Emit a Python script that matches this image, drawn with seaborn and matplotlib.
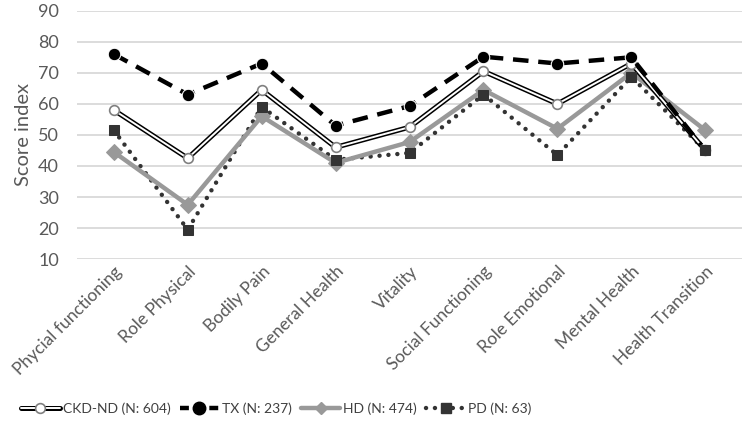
import numpy as np
import pandas as pd
import seaborn as sns
import matplotlib.pyplot as plt
from matplotlib.lines import Line2D
from matplotlib.legend_handler import HandlerTuple

domains = ['Phycial functioning', 'Role Physical', 'Bodily Pain', 'General Health', 'Vitality',
           'Social Functioning', 'Role Emotional', 'Mental Health', 'Health Transition']
ckd = [58, 42.5, 64.5, 46, 52.5, 70.5, 60, 73, 45]
tx = [76, 63, 73, 53, 59.3, 75.2, 73, 75, 45]
hd = [44.5, 27.5, 56, 41, 47.7, 64.5, 52, 70, 51.5]
pd_ = [51.5, 19.5, 59, 42, 44.2, 63, 43.5, 68.7, 45]
labels = ['CKD-ND (N: 604)', 'TX (N: 237)', 'HD (N: 474)', 'PD (N: 63)']

df = pd.DataFrame({'domain': domains, 'ckd': ckd, 'tx': tx, 'hd': hd, 'pd': pd_})

sns.set_style('white')
plt.rcParams['font.family'] = ['Lato', 'DejaVu Sans']

fig = plt.figure(figsize=(7.46, 4.29), dpi=100)
ax = fig.add_axes([0.103, 0.396, 0.892, 0.579])

grey_txt = '#595959'

# PD - dotted dark grey, squares
sns.lineplot(data=df, x='domain', y='pd', ax=ax, color='#333333', lw=3.2, zorder=2,
             linestyle=(0, (0.01, 2)), dash_capstyle='round', sort=False)
sns.lineplot(data=df, x='domain', y='pd', ax=ax, color='#333333', lw=0, marker='s',
             markersize=6.5, markeredgecolor='#333333', zorder=6, sort=False)

# HD - light grey solid, diamonds
sns.lineplot(data=df, x='domain', y='hd', ax=ax, color='#999999', lw=3.2, zorder=3,
             marker='D', markersize=8, markeredgecolor='#999999', sort=False)

# CKD-ND - double line, hollow circles
sns.lineplot(data=df, x='domain', y='ckd', ax=ax, color='black', lw=3.6, zorder=4, sort=False)
sns.lineplot(data=df, x='domain', y='ckd', ax=ax, color='white', lw=1.4, zorder=4.1, sort=False)
sns.lineplot(data=df, x='domain', y='ckd', ax=ax, lw=0, marker='o', markersize=7,
             markerfacecolor='white', markeredgecolor='#808080', markeredgewidth=1.2,
             zorder=4.2, sort=False)

# TX - black dashed, filled circles
sns.lineplot(data=df, x='domain', y='tx', ax=ax, color='black', lw=3.2, zorder=5,
             linestyle=(0, (3.5, 2.2)), marker='o', markersize=9, sort=False)

ax.set_ylim(10, 90)
ax.set_xlim(-0.5, len(domains) - 0.5)
ax.set_yticks(range(10, 91, 10))
ax.yaxis.grid(True, color='#d9d9d9', lw=1.3)
ax.set_axisbelow(True)
for s in ax.spines.values():
    s.set_visible(False)
ax.set_xlabel('')
ax.set_ylabel('Score index', fontsize=14.5, color=grey_txt, labelpad=4)
ax.tick_params(axis='y', labelsize=13, labelcolor=grey_txt, length=0, pad=13)
ax.tick_params(axis='x', labelsize=12.5, labelcolor=grey_txt, length=0, pad=3)
plt.setp(ax.get_xticklabels(), rotation=45, ha='right', rotation_mode='anchor')

# legend with custom handles
h_ckd = (Line2D([], [], color='black', lw=3.6),
         Line2D([], [], color='white', lw=1.4),
         Line2D([], [], lw=0, marker='o', markersize=7, markerfacecolor='white',
                markeredgecolor='#808080', markeredgewidth=1.2))
h_tx = Line2D([], [], color='black', lw=3.2, linestyle=(0, (2, 1.3)), marker='o', markersize=9)
h_hd = Line2D([], [], color='#999999', lw=3.2, marker='D', markersize=6)
h_pd = (Line2D([], [], color='#333333', lw=3.2, linestyle=(0, (0.01, 2)), dash_capstyle='round'),
        Line2D([], [], lw=0, color='#333333', marker='s', markersize=6.5))
leg = fig.legend([h_ckd, h_tx, h_hd, h_pd], labels, loc='center left',
                 bbox_to_anchor=(0.028, 0.047), borderaxespad=0, borderpad=0,
                 ncol=4, frameon=False, fontsize=10, handlelength=2.8, columnspacing=0.7,
                 handletextpad=0.2, handler_map={tuple: HandlerTuple(ndivide=1)})
for t in leg.get_texts():
    t.set_color('#404040')

fig.savefig('out.png', dpi=100)
